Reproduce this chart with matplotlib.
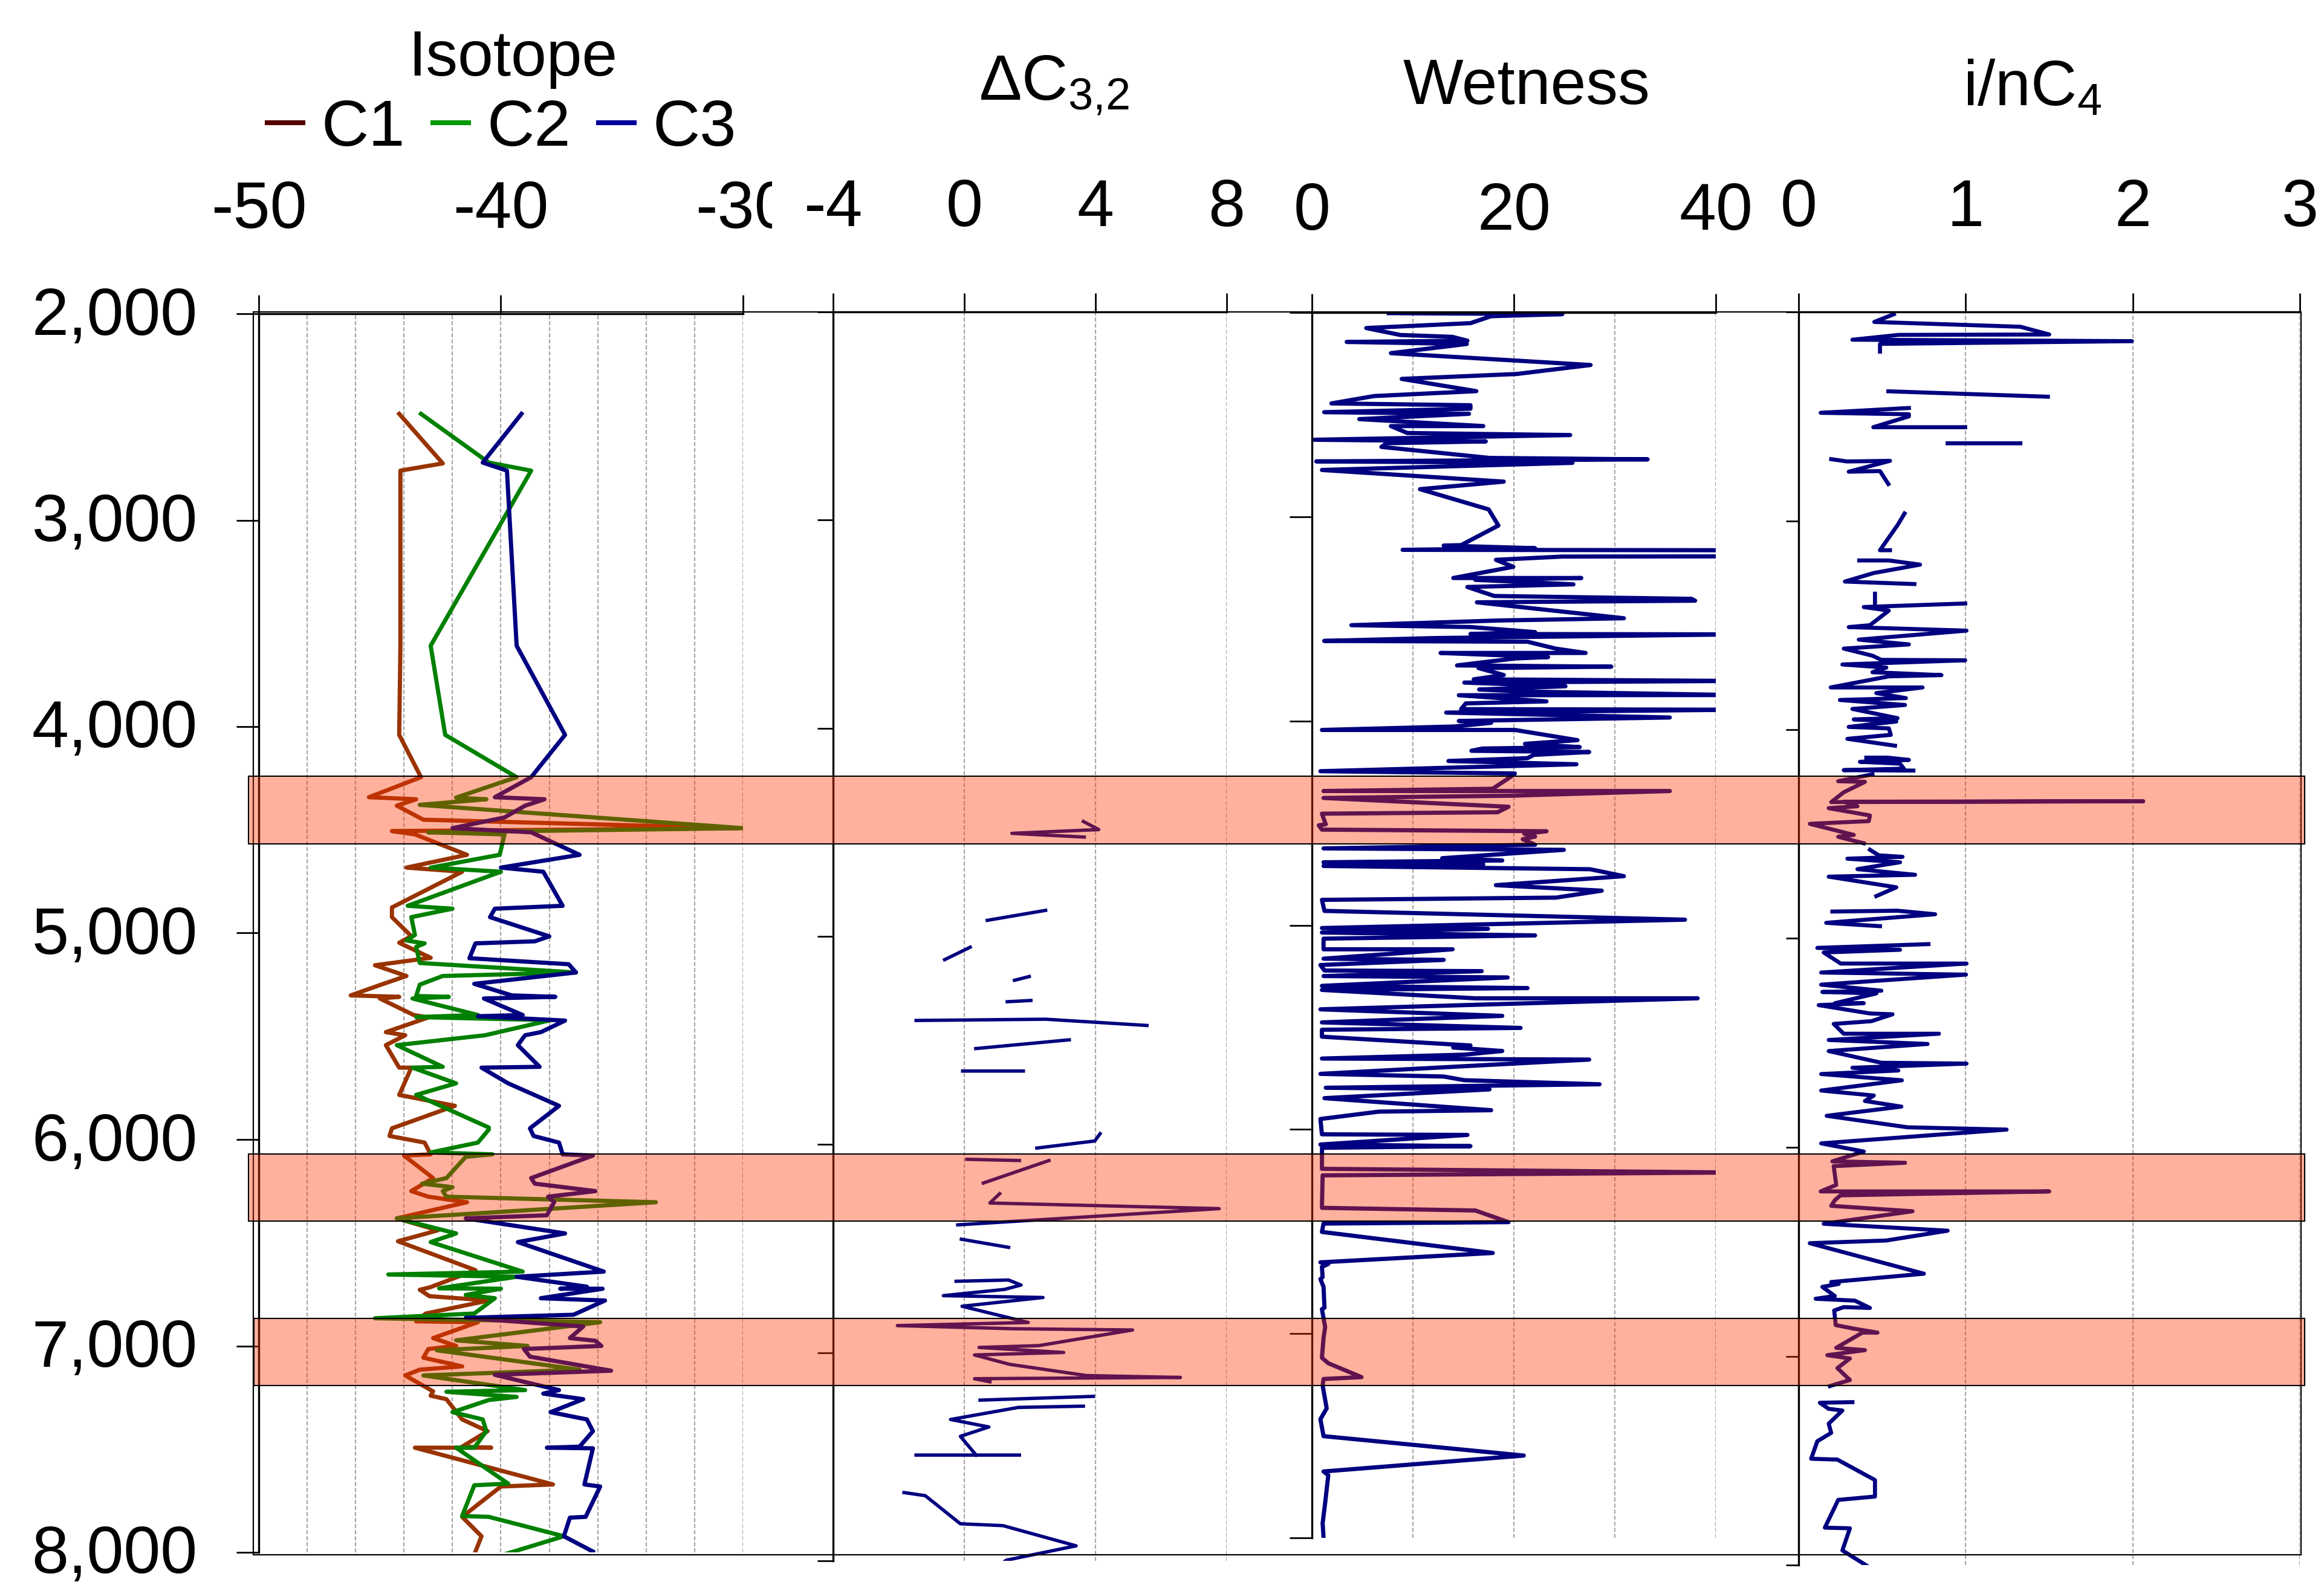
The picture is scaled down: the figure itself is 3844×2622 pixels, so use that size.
import numpy as np
import matplotlib
matplotlib.use('Agg')
import matplotlib.pyplot as plt
from matplotlib.lines import Line2D
from matplotlib.patches import Rectangle
from matplotlib.transforms import blended_transform_factory, ScaledTranslation
from matplotlib.ticker import FuncFormatter

plt.rcParams['font.family'] = ['Liberation Sans', 'DejaVu Sans']
plt.rcParams['mathtext.fontset'] = 'custom'
plt.rcParams['mathtext.rm'] = 'Liberation Sans'
plt.rcParams['mathtext.default'] = 'regular'
plt.rcParams['axes.unicode_minus'] = False

### data (depth, value)
depth_ticks = [2000, 3000, 4000, 5000, 6000, 7000, 8000]

c1 = [(2485, -44.2), (2725, -42.4), (2760, -44.15), (3608, -44.15), (4040, -44.2), (4245, -43.3),
      (4342, -45.45), (4352, -43.5), (4383, -44.3), (4451, -43.2), (4492, -30.2), (4506, -44.5),
      (4522, -43.55), (4621, -41.4), (4683, -43.9), (4703, -41.6), (4876, -44.5), (4923, -44.5),
      (5015, -43.7), (5047, -44.2), (5120, -42.9), (5156, -45.2), (5208, -43.9), (5250, -44.95),
      (5302, -46.2), (5309, -44.2), (5317, -45.0), (5397, -43.6), (5409, -43.0), (5480, -44.75),
      (5495, -43.95), (5543, -44.75), (5652, -44.2), (5652, -43.7), (5732, -44.0), (5784, -44.2),
      (5837, -41.9), (5946, -44.5), (5983, -44.6), (6015, -43.15), (6072, -42.9), (6078, -44.0),
      (6187, -42.8), (6250, -43.7), (6277, -43.0), (6304, -41.4), (6382, -44.3), (6440, -42.6),
      (6493, -44.25), (6633, -41.05), (6717, -42.95), (6728, -43.35), (6759, -42.95), (6780, -40.5),
      (6843, -43.1), (6881, -43.5), (6885, -40.95), (6962, -42.8), (7000, -41.85), (7015, -43.0),
      (7057, -43.2), (7099, -41.6), (7115, -43.35), (7143, -43.95), (7220, -42.8), (7241, -42.9),
      (7258, -42.25), (7356, -41.6), (7413, -40.55), (7488, -41.6), (7493, -40.4), (7493, -43.55),
      (7671, -37.85), (7681, -40.0), (7828, -41.6), (7922, -40.8), (7996, -41.05)]

c2 = [(2485, -43.3), (2721, -40.5), (2760, -38.75), (3608, -42.9), (4040, -42.3), (4245, -39.35),
      (4344, -41.85), (4352, -40.6), (4379, -43.35), (4492, -30.0), (4512, -43.0), (4522, -39.85),
      (4621, -40.05), (4683, -42.9), (4703, -40.0), (4868, -43.85), (4882, -42.0), (4923, -43.7),
      (5009, -43.55), (5036, -43.9), (5050, -43.15), (5067, -43.5), (5145, -43.35), (5191, -36.9),
      (5208, -42.4), (5250, -43.35), (5305, -43.5), (5309, -42.15), (5317, -43.65), (5397, -40.95),
      (5407, -43.5), (5422, -37.95), (5495, -40.65), (5543, -44.3), (5648, -42.4), (5652, -43.65),
      (5728, -41.85), (5784, -43.5), (5942, -40.5), (5952, -40.5), (6015, -40.95), (6063, -42.9),
      (6072, -40.35), (6084, -41.45), (6187, -42.25), (6214, -43.25), (6231, -42.0), (6250, -42.4),
      (6277, -42.25), (6304, -33.6), (6382, -44.3), (6455, -41.85), (6497, -42.9), (6640, -39.1),
      (6654, -44.65), (6665, -39.35), (6721, -42.55), (6723, -40.0), (6753, -41.45), (6769, -40.25),
      (6843, -41.1), (6866, -45.2), (6885, -35.9), (6973, -41.85), (7000, -38.9), (7021, -42.65),
      (7115, -36.75), (7143, -43.2), (7214, -39.0), (7222, -42.25), (7247, -39.35), (7262, -40.5),
      (7321, -42.0), (7356, -40.75), (7413, -40.6), (7493, -41.1), (7493, -41.85), (7667, -39.7),
      (7675, -41.1), (7824, -41.6), (7828, -40.5), (7922, -37.4), (8006, -39.75)]

c3 = [(2485, -39.15), (2721, -40.75), (2760, -39.75), (3608, -39.35), (4040, -37.35), (4245, -38.75),
      (4342, -40.25), (4352, -38.2), (4383, -39.0), (4440, -39.85), (4492, -42.0), (4512, -38.75),
      (4621, -36.75), (4683, -40.0), (4703, -38.25), (4868, -37.45), (4882, -40.25), (4923, -40.45),
      (5016, -38.0), (5040, -38.6), (5050, -41.05), (5122, -41.3), (5151, -37.2), (5191, -36.9),
      (5246, -41.1), (5302, -39.55), (5309, -37.75), (5317, -40.7), (5397, -39.1), (5403, -40.95),
      (5424, -37.35), (5480, -38.35), (5495, -39.0), (5543, -39.3), (5648, -38.4), (5652, -40.8),
      (5728, -39.7), (5837, -37.6), (5946, -38.8), (5983, -38.65), (6015, -37.6), (6072, -37.45),
      (6078, -36.2), (6187, -38.75), (6214, -38.6), (6250, -36.1), (6277, -38.05), (6304, -37.8),
      (6367, -38.1), (6382, -41.45), (6455, -37.35), (6497, -39.3), (6640, -35.75), (6665, -39.35),
      (6713, -36.45), (6723, -37.55), (6723, -35.8), (6769, -38.35), (6780, -35.7), (6849, -37.0),
      (6864, -41.45), (6906, -36.6), (6962, -37.15), (6975, -36.1), (7000, -35.85), (7015, -39.05),
      (7052, -38.8), (7120, -35.45), (7140, -40.25), (7214, -37.6), (7231, -38.25), (7258, -36.6),
      (7321, -37.95), (7356, -36.45), (7413, -36.2), (7488, -36.75), (7493, -38.1), (7496, -36.2),
      (7671, -36.55), (7681, -35.9), (7828, -36.5), (7832, -37.15), (7922, -37.4), (7996, -36.2)]

# delta C3,2 : broken into pieces where samples are missing
dc32 = [
    [(4448, 3.63), (4487, 4.10), (4505, 1.45), (4523, 3.66)],
    [(4875, 2.48), (4923, 0.70)],
    [(5052, 0.18), (5112, -0.60)],
    [(5193, 1.98), (5211, 1.53)],
    [(5308, 2.03), (5314, 1.31)],
    [(5404, -1.47), (5398, 2.48), (5428, 5.57)],
    [(5497, 3.20), (5539, 0.35)],
    [(5647, -0.05), (5647, 1.80)],
    [(5948, 4.14), (5983, 3.98), (6017, 2.21)],
    [(6071, 0.08), (6077, 1.68)],
    [(6077, 2.58), (6185, 0.58)],
    [(6236, 1.08), (6281, 0.78), (6308, 7.77), (6386, -0.20)],
    [(6455, -0.09), (6494, 1.35)],
    [(6657, -0.25), (6651, 1.35), (6675, 1.73), (6696, 1.23), (6726, -0.64), (6735, 2.40),
     (6777, -0.07), (6855, 1.95), (6870, -2.04), (6885, 1.48), (6891, 5.13), (6966, 2.28),
     (6975, 0.45), (6999, 3.03), (7011, 0.31), (7056, 1.38), (7110, 3.73), (7119, 6.59),
     (7125, 0.31), (7140, 0.78)],
    [(7210, 3.93), (7228, 0.48)],
    [(7257, 3.63), (7263, 1.65), (7321, -0.42), (7357, 0.75), (7402, -0.12), (7492, 0.36)],
    [(7492, -1.47), (7492, 1.68)],
    [(7672, -1.84), (7687, -1.19), (7822, -0.12), (7831, 1.18), (7928, 3.41), (7997, 1.28), (8040, 0.9)],
]

wetness = [
    (2003, 7.6), (2008, 24.8), (2018, 17.75), (2052, 15.7), (2076, 5.38), (2110, 8.76), (2119, 13.9),
    (2138, 15.4), (2144, 3.44), (2154, 15.34), (2199, 7.82), (2235, 20.1), (2257, 27.6), (2301, 20.26),
    (2325, 8.89), (2385, 16.28), (2409, 6.16), (2445, 1.93), (2454, 15.7), (2471, 15.7), (2488, 1.21),
    (2496, 15.56), (2522, 4.69), (2556, 16.97), (2556, 7.82), (2590, 9.45), (2600, 25.58), (2623, 0.21),
    (2631, 17.22), (2640, 7.41), (2658, 6.88), (2712, 17.59), (2719, 33.25), (2729, 0.43), (2736, 25.8),
    (2771, 0.99), (2828, 19.0), (2865, 10.7), (2964, 17.5), (3043, 18.47), (3139, 14.77), (3141, 13.05),
    (3154, 22.1), (3162, 8.98), (3164, 42), (3194, 42), (3195, 24.8), (3211, 18.22), (3245, 19.94),
    (3300, 14.0), (3300, 26.68), (3309, 16.18), (3331, 25.9), (3344, 15.4), (3388, 18.06), (3402, 37.6),
    (3411, 37.95), (3419, 16.34), (3497, 30.9), (3508, 18.53), (3531, 3.91), (3540, 15.7), (3565, 22.1),
    (3574, 15.7), (3576, 42), (3594, 12.27), (3608, 1.21), (3612, 21.35), (3646, 24.17), (3667, 27.1),
    (3667, 12.74), (3687, 23.39), (3694, 20.1), (3728, 14.37), (3734, 29.65), (3741, 16.5), (3775, 19.0),
    (3796, 16.03), (3804, 42), (3812, 15.09), (3830, 25.11), (3846, 16.56), (3856, 21.04), (3873, 42),
    (3874, 14.55), (3904, 23.23), (3914, 15.24), (3942, 14.77), (3945, 42), (3959, 13.3), (3983, 35.44),
    (4000, 14.55), (4009, 17.75), (4027, 14.15), (4044, 0.99), (4044, 20.1), (4094, 26.3), (4112, 21.1),
    (4128, 26.52), (4135, 16.9), (4146, 15.8), (4152, 27.46), (4166, 21.98), (4182, 21.35), (4196, 13.52),
    (4212, 26.2), (4246, 0.84), (4257, 20.1), (4273, 19.7), (4332, 17.9), (4343, 1.15), (4343, 35.45),
    (4366, 19.7), (4377, 1.15), (4420, 19.47), (4447, 18.38), (4454, 0.99), (4506, 1.37), (4511, 0.68),
    (4532, 0.99), (4540, 23.23), (4552, 21.04), (4566, 22.1), (4579, 20.88), (4606, 22.1), (4624, 1.15),
    (4631, 24.95), (4672, 12.9), (4683, 18.85), (4692, 1.15), (4702, 16.97), (4710, 1.15), (4726, 27.55),
    (4760, 30.9), (4804, 18.22), (4831, 28.7), (4865, 24.17), (4876, 0.99), (4930, 1.24), (4973, 36.95),
    (5014, 0.99), (5018, 17.44), (5036, 0.99), (5050, 22.1), (5066, 1.15), (5118, 1.15), (5118, 13.93),
    (5164, 1.15), (5170, 13.05), (5195, 0.84), (5222, 1.24), (5225, 16.81), (5249, 1.15), (5256, 19.38),
    (5297, 0.99), (5308, 21.35), (5317, 0.99), (5358, 16.18), (5358, 38.2), (5412, 0.84), (5444, 18.85),
    (5476, 0.99), (5503, 20.66), (5512, 0.99), (5546, 0.99), (5589, 15.7), (5599, 13.99), (5616, 18.85),
    (5634, 15.09), (5653, 0.99), (5658, 27.46), (5728, 0.84), (5741, 13.05), (5759, 15.09), (5779, 28.49),
    (5796, 1.37), (5804, 17.59), (5847, 1.24), (5906, 17.75), (5913, 6.63), (5949, 0.84), (6024, 0.99),
    (6027, 15.4), (6074, 0.84), (6082, 15.7), (6090, 1.0), (6193, 0.99), (6211, 42), (6225, 1.06),
    (6384, 0.99), (6397, 16.18), (6454, 19.47), (6461, 1.15), (6502, 0.99), (6605, 17.91), (6651, 0.84),
    (6659, 1.62), (6673, 0.99), (6723, 1.06), (6733, 0.84), (6771, 1.15), (6873, 1.24), (6880, 0.99),
    (6968, 1.31), (7022, 1.15), (7118, 0.99), (7145, 1.62), (7213, 4.91), (7222, 1.15), (7254, 1.06),
    (7366, 1.46), (7419, 0.84), (7502, 1.15), (7597, 20.98), (7675, 1.15), (7693, 1.62), (7828, 1.31),
    (7929, 1.06), (7997, 1.15)]

inc4 = [
    [(2011, 0.57), (2048, 0.453), (2071, 1.327), (2108, 1.50), (2110, 0.60), (2133, 0.322), (2140, 1.995),
     (2153, 0.487), (2190, 0.487)],
    [(2380, 0.537), (2406, 1.492)],
    [(2460, 0.66), (2483, 0.132), (2490, 0.66), (2500, 0.66), (2552, 0.447), (2552, 0.997)],
    [(2629, 0.892), (2629, 1.327)],
    [(2705, 0.195), (2716, 0.29), (2713, 0.547), (2765, 0.30), (2762, 0.487), (2824, 0.537)],
    [(2965, 0.634), (3021, 0.592), (3141, 0.487), (3141, 0.547)],
    [(3190, 0.363), (3190, 0.54), (3210, 0.727), (3250, 0.45), (3291, 0.277), (3303, 0.693)],
    [(3349, 0.457), (3393, 0.457)],
    [(3396, 0.997), (3413, 0.39), (3430, 0.54), (3500, 0.427), (3509, 0.30), (3526, 1.005), (3569, 0.36),
     (3592, 0.66), (3612, 0.27), (3646, 0.442), (3666, 0.495), (3668, 0.997), (3688, 0.262), (3703, 0.525),
     (3725, 0.442), (3739, 0.855), (3745, 0.54), (3798, 0.192), (3798, 0.742), (3825, 0.465), (3849, 0.642),
     (3858, 0.247), (3882, 0.637), (3901, 0.322), (3945, 0.592), (3951, 0.33), (3961, 0.585), (3987, 0.30),
     (3994, 0.54), (4025, 0.552), (4044, 0.292), (4077, 0.577)],
    [(4134, 0.405), (4134, 0.532), (4145, 0.66), (4154, 0.367), (4163, 0.607), (4187, 0.63), (4194, 0.27),
     (4196, 0.687)],
    [(4214, 0.442), (4247, 0.237), (4250, 0.397), (4300, 0.27), (4347, 0.195), (4343, 2.063), (4345, 0.27),
     (4367, 0.352), (4376, 0.18), (4411, 0.427), (4438, 0.42), (4451, 0.067), (4504, 0.33), (4513, 0.237),
     (4544, 0.39)],
    [(4575, 0.427), (4602, 0.48), (4609, 0.622), (4618, 0.292), (4635, 0.607), (4668, 0.352), (4695, 0.697),
     (4704, 0.18), (4755, 0.585), (4797, 0.465)],
    [(4871, 0.202), (4867, 0.592), (4884, 0.817), (4925, 0.165), (4941, 0.487)],
    [(5027, 0.777), (5045, 0.112), (5054, 0.607), (5067, 0.15), (5120, 0.252), (5120, 1.005), (5163, 0.135),
     (5173, 1.002), (5221, 0.135), (5250, 0.495), (5256, 0.142), (5263, 0.465), (5310, 0.217), (5310, 0.39),
     (5319, 0.12), (5359, 0.427), (5363, 0.562), (5396, 0.435), (5409, 0.21), (5456, 0.27), (5456, 0.84),
     (5486, 0.18), (5505, 0.772), (5539, 0.18), (5595, 0.495), (5599, 1.005), (5619, 0.322), (5632, 0.597),
     (5649, 0.135), (5679, 0.618), (5728, 0.135), (5752, 0.45), (5778, 0.397), (5805, 0.615), (5849, 0.168),
     (5904, 0.652), (5915, 1.245), (5981, 0.135), (6020, 0.39), (6067, 0.202), (6074, 0.637), (6090, 0.21),
     (6180, 0.225), (6211, 0.132), (6211, 1.50), (6230, 0.25), (6253, 0.217), (6280, 0.195), (6306, 0.682),
     (6366, 0.15), (6399, 0.892), (6446, 0.525), (6459, 0.067), (6605, 0.75), (6645, 0.195), (6654, 0.24),
     (6668, 0.142), (6712, 0.217), (6725, 0.102), (6734, 0.337), (6769, 0.427), (6765, 0.27), (6781, 0.213),
     (6851, 0.222), (6868, 0.33), (6887, 0.472), (6887, 0.382), (6960, 0.225), (6971, 0.397), (6995, 0.172),
     (7011, 0.307), (7057, 0.232), (7114, 0.307), (7143, 0.187)],
    [(7220, 0.322), (7223, 0.127), (7252, 0.18), (7260, 0.262), (7323, 0.18), (7367, 0.195), (7407, 0.112),
     (7491, 0.075), (7495, 0.232), (7593, 0.457), (7672, 0.457), (7688, 0.237), (7821, 0.157), (7824, 0.307),
     (7930, 0.262), (7994, 0.39), (8040, 0.48)],
]

# zones of interest (depth top, depth bottom)
zones = [(4240, 4568), (6070, 6395), (6867, 7192)]

iso_colors = ['#993300', '#008000', '#000080']
iso_legend_colors = ['#550000', '#009900', '#000099']
navy = '#000080'

W, H = 3844, 2622
fig = plt.figure(figsize=(W / 100, H / 100), dpi=100)


def panel(x0, x1, y0, y1, xlim, xticks, grid, tick_len):
    ax = fig.add_axes([x0 / W, 1 - y1 / H, (x1 - x0) / W, (y1 - y0) / H])
    ax.set_xlim(*xlim)
    ax.set_ylim(8000, 2000)
    ax.patch.set_alpha(0)
    ax.xaxis.tick_top()
    ax.set_xticks(xticks)
    ax.set_yticks(depth_ticks)
    for s in ['right', 'bottom']:
        ax.spines[s].set_visible(False)
    for s in ['top', 'left']:
        ax.spines[s].set_linewidth(2.4)
    ax.tick_params(axis='x', direction='out', length=22, width=2, pad=64, labelsize=79)
    ax.tick_params(axis='y', direction='out', length=tick_len, width=2, labelleft=False)
    for g in grid:
        ax.axvline(g, color='#a8a8a8', lw=1.6, ls=(0, (3, 1.5)), zorder=0.5)
    return ax


def pieces(segs):
    d, v = [], []
    for s in segs:
        d += [p[0] for p in s] + [np.nan]
        v += [p[1] for p in s] + [np.nan]
    return np.array(v), np.array(d)


# Isotope
ax1 = panel(428, 1229, 519, 2568, (-50, -30), [-50, -40, -30], np.arange(-48, -29, 2), 27)
ax1.tick_params(axis='y', labelleft=True, pad=46, labelsize=79)
ax1.yaxis.set_major_formatter(FuncFormatter(lambda v, p: f'{v:,.0f}'))
for lab in ax1.get_yticklabels():
    lab.set_transform(lab.get_transform() + ScaledTranslation(0, 0.05, fig.dpi_scale_trans))
for ser, col in zip([c1, c2, c3], iso_colors):
    arr = np.array(ser)
    ax1.plot(arr[:, 1], arr[:, 0], color=col, lw=5.0)
handles = [Line2D([], [], color=c, lw=5.8) for c in iso_legend_colors]
ax1.legend(handles, ['C1', 'C2', 'C3'], loc='center', bbox_to_anchor=(830 / W, 1 - 213 / H),
           bbox_transform=fig.transFigure, ncol=3, frameon=False, fontsize=78, handlelength=0.55,
           handletextpad=0.28, columnspacing=0.42, borderpad=0, borderaxespad=0)

# delta C3,2
ax2 = panel(1378, 2029, 516, 2582, (-4, 8), [-4, 0, 4, 8], [0, 4, 8], 19)
x, y = pieces(dc32)
ax2.plot(x, y, color=navy, lw=4.0)

# Wetness
ax3 = panel(2170, 2838, 517, 2544, (0, 40), [0, 20, 40], [10, 20, 30, 40], 27)
ax3.tick_params(axis='x', pad=60)
arr = np.array(wetness)
ax3.plot(arr[:, 1], arr[:, 0], color=navy, lw=5.0)

# i/nC4
ax4 = panel(2975, 3804, 516, 2589, (0, 3), [0, 1, 2, 3], [1, 2, 3], 15)
x, y = pieces(inc4)
ax4.plot(x, y, color=navy, lw=4.8)

# panel headings
fig.text(848 / W, 1 - 125 / H, 'Isotope', ha='center', va='baseline', fontsize=76)
fig.text(1743 / W, 1 - 165 / H, r'ΔC$_{3{,}2}$', ha='center', va='baseline', fontsize=76)
fig.text(2525 / W, 1 - 172 / H, 'Wetness', ha='center', va='baseline', fontsize=76)
fig.text(3362 / W, 1 - 174 / H, r'i/nC$_{4}$', ha='center', va='baseline', fontsize=76)

# outer frame of the plot area
fig.add_artist(Rectangle((419 / W, 1 - 2572 / H), (3806 - 419) / W, (2572 - 516) / H,
                         transform=fig.transFigure, fill=False, edgecolor='black', lw=1.6, zorder=2))

# the -30 label is partly hidden by the next track
fig.add_artist(Rectangle((1277 / W, 1 - 420 / H), (1332 - 1277) / W, 140 / H,
                         transform=fig.transFigure, facecolor='white', edgecolor='none', zorder=3))

# shaded zones across all tracks
tr = blended_transform_factory(fig.transFigure, ax1.transData)
for i, (top, bot) in enumerate(zones):
    left = 411 if i < 2 else 420
    fig.add_artist(Rectangle((left / W, top), (3812 - left) / W, bot - top, transform=tr,
                             facecolor=(1.0, 0.2, 0.0, 0.38), edgecolor='black', lw=1.5, zorder=4))

fig.savefig('out.png', dpi=100)
